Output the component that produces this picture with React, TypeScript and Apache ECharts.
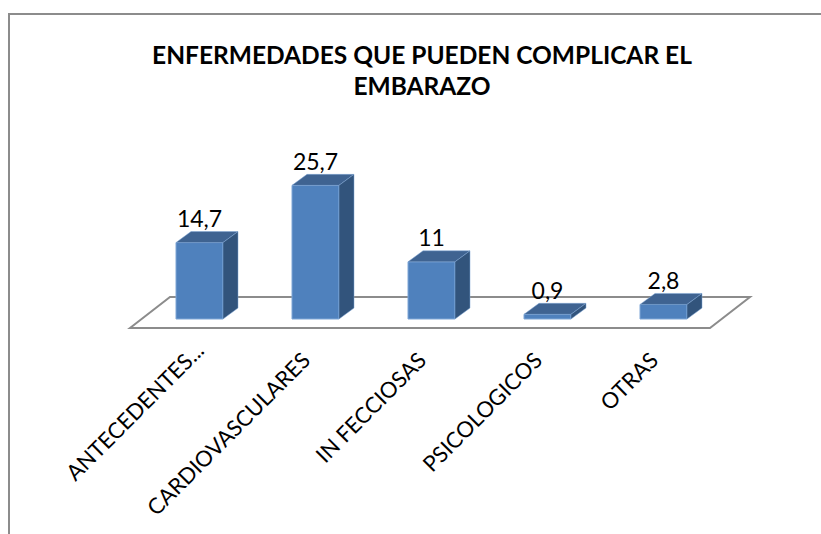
import React, { useEffect, useRef } from "react";
import * as echarts from "echarts";

const chartTitle = "ENFERMEDADES QUE PUEDEN COMPLICAR EL\nEMBARAZO";
const categories = ["ANTECEDENTES...", "CARDIOVASCULARES", "IN FECCIOSAS", "PSICOLOGICOS", "OTRAS"];
const seriesValues = [14.7, 25.7, 11, 0.9, 2.8];
const valueLabels = ["14,7", "25,7", "11", "0,9", "2,8"];
const labelPadRight = [0, 14, 14, 14, 14];

const BAR_W = 47;
const DX = 15;
const DY = 11;

export default function App() {
  const ref = useRef<HTMLDivElement>(null);
  useEffect(() => {
    const chart = echarts.init(ref.current!, undefined, { renderer: "svg" });
    chart.setOption({
      animation: false,
      backgroundColor: "#ffffff",
      title: {
        text: chartTitle,
        left: 417,
        top: 34,
        textAlign: "center",
        textStyle: { fontFamily: "Lato", fontSize: 24.5, fontWeight: "bold", color: "#000", lineHeight: 31 },
      },
      grid: { left: 141.5, top: 163, width: 580, height: 156 },
      xAxis: {
        type: "category",
        data: categories.map((c, i) => ({ value: c, textStyle: { padding: [0, labelPadRight[i], 0, 0] } })),
        axisLine: { show: false },
        axisTick: { show: false },
        axisLabel: {
          rotate: 45,
          interval: 0,
          margin: 27,
          fontFamily: "Lato",
          fontSize: 22,
          color: "#000",
        },
      },
      yAxis: { type: "value", min: 0, max: 30, show: false },
      graphic: [
        { type: "polyline", z: 0, shape: { points: [[9, 534], [9, 14], [821, 14]] }, style: { stroke: "#8c8c8c", lineWidth: 2, fill: "none" } },
        { type: "polygon", z: 0, shape: { points: [[130, 328], [170, 297], [750, 297], [710, 328]] }, style: { fill: "#ffffff", stroke: "#8c8c8c", lineWidth: 2 } },
      ],
      series: [
        {
          type: "custom",
          z: 5,
          data: seriesValues.map((v, i) => [i, v]),
          encode: { x: 0, y: 1 },
          renderItem: (params: any, api: any) => {
            const [cx, top] = api.coord([api.value(0), api.value(1)]);
            const [, base] = api.coord([api.value(0), 0]);
            const x = cx - BAR_W / 2;
            const r = x + BAR_W;
            return {
              type: "group",
              children: [
                { type: "rect", shape: { x, y: top, width: BAR_W, height: base - top }, style: { fill: "#4f81bd", stroke: "#7ea6d6", lineWidth: 1 } },
                { type: "polygon", shape: { points: [[x, top], [x + DX, top - DY], [r + DX, top - DY], [r, top]] }, style: { fill: "#3f6391", stroke: "#7ea6d6", lineWidth: 0.5 } },
                { type: "polygon", shape: { points: [[r, top], [r + DX, top - DY], [r + DX, base - DY], [r, base]] }, style: { fill: "#32547c", stroke: "#7ea6d6", lineWidth: 0.5 } },
                { type: "text", style: { text: valueLabels[params.dataIndex], x: cx, y: top - 13, align: "center", verticalAlign: "bottom", font: "23px Lato", fill: "#000" } },
              ],
            };
          },
        },
      ],
    });
    return () => chart.dispose();
  }, []);
  return <div ref={ref} style={{ position: "fixed", left: 0, top: 0, width: 821, height: 534 }} />;
}
